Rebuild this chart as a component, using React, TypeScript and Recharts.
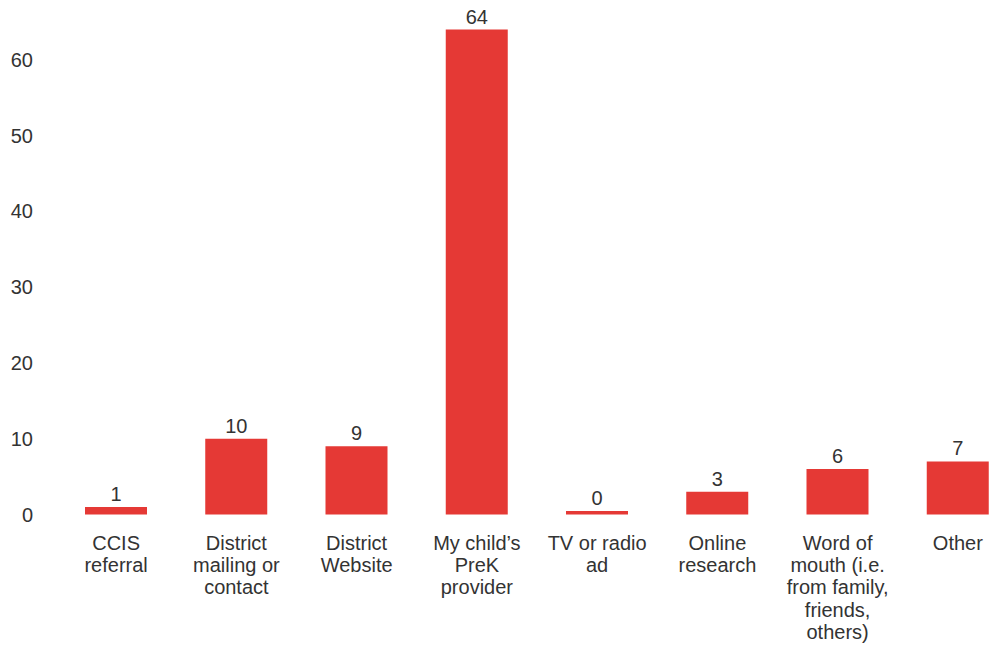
import React from "react";
import { BarChart, Bar, XAxis, YAxis, LabelList } from "recharts";

const categories: string[] = [
  "CCIS\nreferral",
  "District\nmailing or\ncontact",
  "District\nWebsite",
  "My child’s\nPreK\nprovider",
  "TV or radio\nad",
  "Online\nresearch",
  "Word of\nmouth (i.e.\nfrom family,\nfriends,\nothers)",
  "Other",
];
const counts: number[] = [1, 10, 9, 64, 0, 3, 6, 7];
const yTicks: number[] = [0, 10, 20, 30, 40, 50, 60];

const data = categories.map((c, i) => ({ category: c, value: counts[i] }));

const FONT = "'Liberation Sans', Arial, sans-serif";
const TEXT = "#333333";
const RED = "#E53935";

const CategoryTick = (props: any) => {
  const { x, y, payload } = props;
  const lines: string[] = String(payload.value).split("\n");
  return (
    <g>
      <text
        x={x}
        y={y}
        textAnchor="middle"
        fill={TEXT}
        fontSize={20}
        fontFamily={FONT}
      >
        {lines.map((l, i) => (
          <tspan key={i} x={x} y={y + 35 + i * 22.4}>
            {l}
          </tspan>
        ))}
      </text>
    </g>
  );
};

export default function App() {
  return (
    <div
      style={{
        position: "absolute",
        left: 0,
        top: 0,
        width: 990,
        height: 647,
        overflow: "hidden",
        background: "#ffffff",
      }}
    >
      <BarChart
        width={1018}
        height={647}
        data={data}
        margin={{ top: 29.5, right: 0, bottom: 0, left: 0 }}
        barCategoryGap={0}
      >
        <XAxis
          dataKey="category"
          axisLine={false}
          tickLine={false}
          tickSize={0}
          tickMargin={0}
          height={132.5}
          interval={0}
          tick={<CategoryTick />}
        />
        <YAxis
          domain={[0, 64]}
          ticks={yTicks}
          axisLine={false}
          tickLine={false}
          tickSize={0}
          tickMargin={23}
          width={56}
          tick={{ fill: TEXT, fontSize: 20, fontFamily: FONT }}
        />
        <Bar
          dataKey="value"
          fill={RED}
          barSize={62}
          minPointSize={3.5}
          isAnimationActive={false}
        >
          <LabelList
            dataKey="value"
            position="top"
            offset={6}
            fill={TEXT}
            fontSize={20}
            fontFamily={FONT}
          />
        </Bar>
      </BarChart>
    </div>
  );
}
